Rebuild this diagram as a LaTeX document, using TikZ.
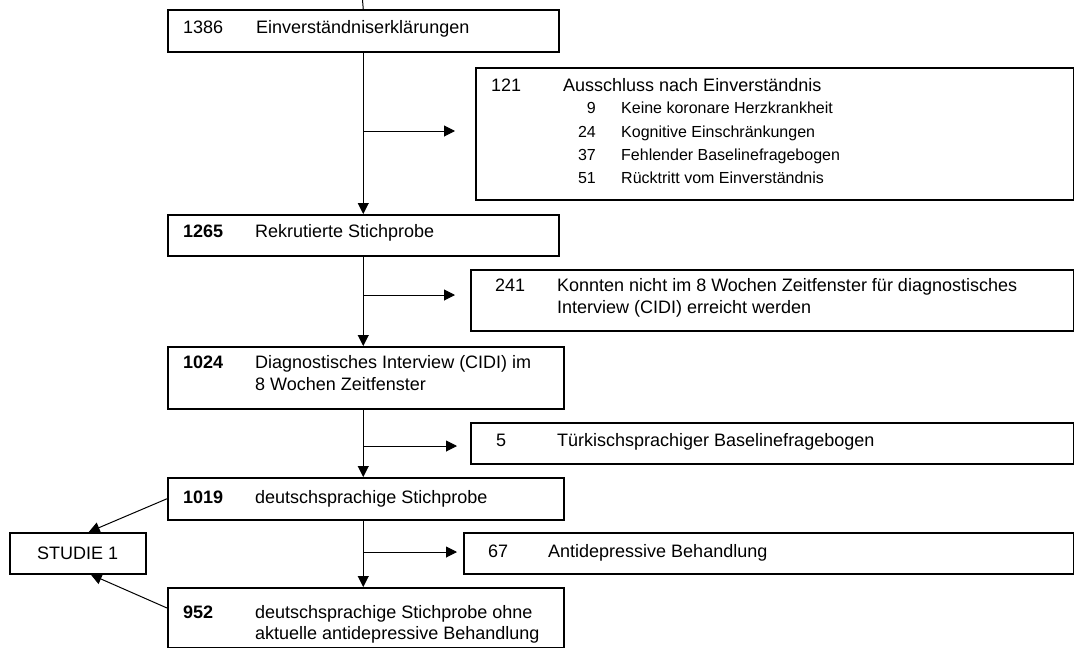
\documentclass[tikz,border=0pt]{standalone}
\usepackage{fontspec}
\setmainfont{Liberation Sans}
\usetikzlibrary{arrows.meta,calc}
\begin{document}
\begin{tikzpicture}[x=1pt,y=-1pt,
  box/.style={draw=black, line width=1.5pt, rectangle, anchor=north west, inner sep=0pt},
  txt/.style={anchor=base west, inner sep=0pt, font=\fontsize{18}{21}\selectfont},
  subn/.style={anchor=base east, inner sep=0pt, font=\fontsize{16}{19}\selectfont},
  subt/.style={anchor=base west, inner sep=0pt, font=\fontsize{16}{19}\selectfont},
  conn/.style={line width=1pt, -{Triangle[length=11pt,width=11pt]}},
  plainline/.style={line width=1pt}]
\useasboundingbox (0,0) rectangle (1074,648);

% boxes
\node[box, minimum width=391pt, minimum height=42pt] (b1) at (167,9) {};
\node[box, minimum width=598pt, minimum height=132pt] (b121) at (475,67) {};
\node[box, minimum width=391pt, minimum height=41pt] (b1265) at (167,214) {};
\node[box, minimum width=603pt, minimum height=61pt] (b241) at (470,269) {};
\node[box, minimum width=396pt, minimum height=62pt] (b1024) at (167,346) {};
\node[box, minimum width=603pt, minimum height=41pt] (b5) at (470,422) {};
\node[box, minimum width=396pt, minimum height=42pt] (b1019) at (167,477) {};
\node[box, minimum width=610pt, minimum height=41pt] (b67) at (463,532) {};
\node[box, minimum width=136pt, minimum height=41pt] (bst) at (9,532) {};
\node[inner sep=0pt, font=\fontsize{18}{21}\selectfont] (tst) at (bst.center) {STUDIE 1};
\node[box, minimum width=396pt, minimum height=60pt] (b952) at (167,587) {};

% texts
\node[txt] (n1) at (183,33) {1386};
\node[txt] (l1) at (256,33) {Einverständniserklärungen};

\node[txt] (n121) at (491,91) {121};
\node[txt] (l121) at (563,91) {Ausschluss nach Einverständnis};
\node[subn] (s1n) at (596,113) {9};
\node[subt] (s1t) at (621,113) {Keine koronare Herzkrankheit};
\node[subn] (s2n) at (596,137) {24};
\node[subt] (s2t) at (621,137) {Kognitive Einschränkungen};
\node[subn] (s3n) at (596,160) {37};
\node[subt] (s3t) at (621,160) {Fehlender Baselinefragebogen};
\node[subn] (s4n) at (596,183) {51};
\node[subt] (s4t) at (621,183) {Rücktritt vom Einverständnis};

\node[txt] (n1265) at (183,237) {\textbf{1265}};
\node[txt] (l1265) at (255,237) {Rekrutierte Stichprobe};

\node[txt] (n241) at (495,291) {241};
\node[txt] (l241a) at (557,291) {Konnten nicht im 8 Wochen Zeitfenster für diagnostisches};
\node[txt] (l241b) at (557,313) {Interview (CIDI) erreicht werden};

\node[txt] (n1024) at (183,368) {\textbf{1024}};
\node[txt] (l1024a) at (255,368) {Diagnostisches Interview (CIDI) im};
\node[txt] (l1024b) at (255,390) {8 Wochen Zeitfenster};

\node[txt] (n5) at (496,446) {5};
\node[txt] (l5) at (557,446) {Türkischsprachiger Baselinefragebogen};

\node[txt] (n1019) at (183,503) {\textbf{1019}};
\node[txt] (l1019) at (255,503) {deutschsprachige Stichprobe};

\node[txt] (n67) at (488,557) {67};
\node[txt] (l67) at (548,557) {Antidepressive Behandlung};

\node[txt] (n952) at (183,618) {\textbf{952}};
\node[txt] (l952a) at (255,618) {deutschsprachige Stichprobe ohne};
\node[txt] (l952b) at (255,639) {aktuelle antidepressive Behandlung};

% connectors
\coordinate (top) at (362.5,0);
\draw[plainline] (top) -- (b1.north);
\draw[conn] (b1.south) -- (b1265.north);
\coordinate (a1) at (455,131);
\draw[conn] (b1.south |- a1) -- (a1);

\draw[conn] (b1265.south) -- (b1265.south |- b1024.north);
\coordinate (a2) at (455,295);
\draw[conn] (b1265.south |- a2) -- (a2);

\draw[conn] (b1024.south -| b1265.south) -- (b1019.north -| b1265.south);
\coordinate (a3) at (457,446);
\draw[conn] (b1265.south |- a3) -- (a3);

\draw[conn] (b1019.south -| b1265.south) -- (b952.north -| b1265.south);
\coordinate (a4) at (457,552);
\draw[conn] (b1265.south |- a4) -- (a4);

\coordinate (st1) at ($(bst.north)+(11,0)$);
\coordinate (st2) at ($(bst.south)+(13,0)$);
\coordinate (f952) at (167,608);
\draw[conn] (b1019.west) -- (st1);
\draw[conn] (f952) -- (st2);
\end{tikzpicture}
\end{document}
